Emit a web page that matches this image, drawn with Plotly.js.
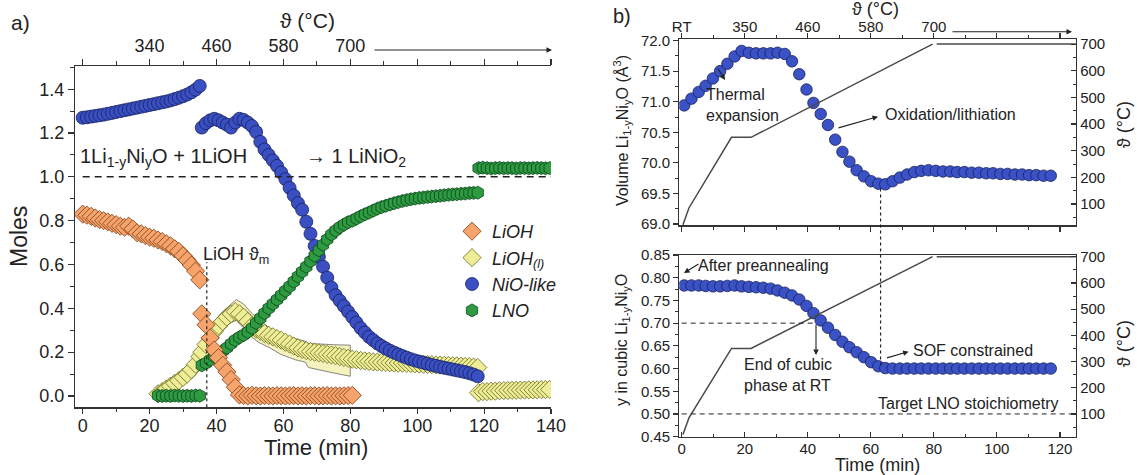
<!DOCTYPE html>
<html><head><meta charset="utf-8">
<script src="https://cdn.plot.ly/plotly-3.0.1.min.js"></script>
<style>html,body{margin:0;padding:0;background:#fff}#chart{width:1137px;height:475px}</style>
</head><body><div id="chart"></div>
<script>
// ---------- Panel a data ----------
const tSeg1 = [0, 1.25, 2.5, 3.75, 5, 6.25, 7.5, 8.75, 10, 11.25, 12.5, 13.75, 15, 16.25, 17.5, 18.75, 20, 21.25, 22.5, 23.75, 25, 26.25, 27.5, 28.75, 30, 31.25, 32.5, 33.75, 35];
const tSeg2 = [35.6, 36.85, 38.1, 39.35, 40.6, 41.85, 43.1, 44.35, 45.6, 46.85,
  48.1, 49.35, 50.6, 51.85, 53.1, 54.35, 55.6, 56.85, 58.1, 59.35,
  60.6, 61.85, 63.1, 64.35, 65.6, 66.85, 68.1, 69.35, 70.6, 71.85,
  73.1, 74.35, 75.6, 76.85, 78.1, 79.35, 80.6, 81.85, 83.1, 84.35,
  85.6, 86.85, 88.1, 89.35, 90.6, 91.85, 93.1, 94.35, 95.6, 96.85,
  98.1, 99.35, 100.6, 101.85, 103.1, 104.35, 105.6, 106.85, 108.1, 109.35,
  110.6, 111.85, 113.1, 114.35, 115.6, 116.85, 118.1];
const tSeg3 = [118.35, 119.6, 120.85, 122.1, 123.35, 124.6, 125.85, 127.1, 128.35, 129.6, 130.85, 132.1, 133.35, 134.6, 135.85, 137.1, 138.35, 139.6];

const nio1 = [1.27, 1.272, 1.275, 1.278, 1.281, 1.284, 1.288, 1.292, 1.296, 1.30, 1.304, 1.308, 1.312, 1.316, 1.32, 1.324, 1.328, 1.332, 1.336, 1.34, 1.344, 1.349, 1.355, 1.361, 1.368, 1.376, 1.386, 1.398, 1.415];
const nio2 = [1.225, 1.245, 1.258, 1.265, 1.258, 1.248, 1.238, 1.225, 1.248, 1.265,
  1.26, 1.248, 1.232, 1.205, 1.16, 1.125, 1.10, 1.075, 1.05, 1.02,
  0.99, 0.95, 0.915, 0.88, 0.85, 0.795, 0.74, 0.685, 0.635, 0.59,
  0.54, 0.495, 0.46, 0.435, 0.41, 0.385, 0.36, 0.335, 0.31, 0.29,
  0.27, 0.255, 0.24, 0.228, 0.217, 0.207, 0.198, 0.19, 0.182, 0.175,
  0.168, 0.162, 0.157, 0.152, 0.147, 0.142, 0.138, 0.133, 0.129, 0.125,
  0.121, 0.117, 0.113, 0.109, 0.104, 0.098, 0.09];

const lioh1 = [0.83, 0.825, 0.82, 0.812, 0.805, 0.80, 0.795, 0.788, 0.782, 0.775, 0.77, 0.775, 0.762, 0.745, 0.74, 0.732, 0.725, 0.72, 0.712, 0.705, 0.695, 0.685, 0.672, 0.66, 0.64, 0.62, 0.597, 0.57, 0.53];
const lioh2 = [0.375, 0.325, 0.265, 0.21, 0.175, 0.14, 0.11, 0.075, 0.04, 0.005,
  0.002, 0.0, 0.003, 0.001, 0.0, 0.002, 0.001, 0.0, 0.002, 0.001,
  0.0, 0.001, 0.002, 0.0, 0.001, 0.0, 0.002, 0.001, 0.0, 0.001,
  0.002, 0.0, 0.001, 0.0, 0.001, 0.002, 0.003];

const liohL1 = [0.01, 0.02, 0.032, 0.045, 0.058, 0.07, 0.085, 0.10, 0.12, 0.145, 0.18];
const liohL2 = [0.20, 0.235, 0.265, 0.295, 0.32, 0.34, 0.36, 0.375, 0.385, 0.375,
  0.36, 0.34, 0.32, 0.305, 0.295, 0.285, 0.277, 0.27, 0.262, 0.255,
  0.245, 0.237, 0.228, 0.22, 0.213, 0.207, 0.203, 0.20, 0.197, 0.194,
  0.19, 0.187, 0.184, 0.18, 0.176, 0.172, 0.168, 0.165, 0.162, 0.16,
  0.158, 0.156, 0.155, 0.154, 0.153, 0.152, 0.151, 0.15, 0.15, 0.149,
  0.148, 0.147, 0.146, 0.145, 0.144, 0.143, 0.142, 0.141, 0.14, 0.139,
  0.138, 0.137, 0.136, 0.135, 0.134, 0.132, 0.13];
const liohL3 = [0.015, 0.02, 0.02, 0.022, 0.022, 0.024, 0.025, 0.025, 0.026, 0.026, 0.027, 0.027, 0.028, 0.028, 0.028, 0.029, 0.029, 0.03];

const bandT  = [22.7, 27, 30.4, 33.8, 35.4, 37.1, 39.3, 41.5, 43.7, 45.9, 48.1, 50.4, 52.6, 55.9, 59.2, 63.6, 66.5, 67.5, 70, 75, 80];
const bandHi = [0.03, 0.08, 0.125, 0.18, 0.25, 0.29, 0.34, 0.38, 0.41, 0.44, 0.42, 0.38, 0.35, 0.31, 0.28, 0.26, 0.25, 0.24, 0.237, 0.234, 0.232];
const bandLo = [0.0, 0.045, 0.075, 0.12, 0.16, 0.21, 0.26, 0.30, 0.33, 0.345, 0.31, 0.27, 0.245, 0.22, 0.19, 0.165, 0.155, 0.13, 0.122, 0.105, 0.09];

const lno1 = [0.002, 0.0, 0.001, 0.0, 0.002, 0.001, 0.0, 0.001, 0.0, 0.002, 0.001];
const lno2 = [0.14, 0.15, 0.165, 0.18, 0.19, 0.205, 0.22, 0.238, 0.255, 0.268,
  0.278, 0.292, 0.31, 0.333, 0.355, 0.378, 0.40, 0.42, 0.44, 0.46,
  0.48, 0.50, 0.522, 0.545, 0.567, 0.59, 0.615, 0.64, 0.665, 0.69,
  0.715, 0.737, 0.755, 0.77, 0.782, 0.793, 0.80, 0.81, 0.82, 0.829,
  0.837, 0.846, 0.855, 0.862, 0.868, 0.874, 0.88, 0.885, 0.89, 0.894,
  0.898, 0.901, 0.904, 0.906, 0.908, 0.91, 0.912, 0.914, 0.916, 0.918,
  0.92, 0.921, 0.923, 0.924, 0.926, 0.927, 0.928];
const lno3 = [1.04, 1.042, 1.04, 1.038, 1.04, 1.041, 1.039, 1.04, 1.04, 1.038, 1.04, 1.04, 1.039, 1.04, 1.041, 1.04, 1.039, 1.04];

const topLabelsA = ['', '340', '460', '580', '700', '', '', ''];
const topTicksA = [0, 20, 40, 60, 80, 100, 120, 140];
const stoichLine = 1.0;
const liohMeltT = 37.1;

// ---------- Panel b data ----------
const tB = [0.8, 3.1, 5.4, 7.6, 9.9, 12.2, 14.5, 16.8, 19.0, 21.3,
  23.6, 25.9, 28.2, 30.4, 32.7, 35.0, 37.3, 39.6, 41.8, 44.1,
  46.4, 48.7, 51.0, 53.2, 55.5, 57.8, 60.1, 62.4, 64.6, 66.9,
  69.2, 71.5, 73.8, 76.0, 78.3, 80.6, 82.9, 85.2, 87.4, 89.7,
  92.0, 94.3, 96.6, 98.8, 101.1, 103.4, 105.7, 108.0, 110.2, 112.5,
  114.8, 117.1];
const volume = [70.94, 71.05, 71.16, 71.26, 71.38, 71.50, 71.62, 71.74, 71.83, 71.80,
  71.79, 71.79, 71.79, 71.80, 71.78, 71.66, 71.45, 71.20, 70.98, 70.80,
  70.62, 70.38, 70.18, 70.02, 69.88, 69.78, 69.70, 69.66, 69.65, 69.70,
  69.76, 69.81, 69.85, 69.87, 69.88, 69.87, 69.86, 69.86, 69.85, 69.85,
  69.84, 69.84, 69.83, 69.83, 69.82, 69.82, 69.81, 69.81, 69.80, 69.80,
  69.79, 69.79];
const yCubic = [0.783, 0.783, 0.783, 0.782, 0.781, 0.781, 0.782, 0.783, 0.781, 0.780,
  0.779, 0.778, 0.776, 0.772, 0.767, 0.761, 0.752, 0.738, 0.722, 0.706,
  0.690, 0.674, 0.659, 0.647, 0.636, 0.625, 0.614, 0.605, 0.601, 0.600,
  0.600, 0.600, 0.600, 0.600, 0.600, 0.600, 0.600, 0.600, 0.600, 0.600,
  0.600, 0.600, 0.600, 0.600, 0.600, 0.600, 0.600, 0.600, 0.600, 0.600,
  0.600, 0.600];
const tempT = [0.4, 2.3, 15.8, 22.0, 79.6, null, 80.9, 125];
const tempV = [22, 85, 350, 350, 700, null, 700, 700];
const topTicksB = [0, 20, 40, 60, 80, 100, 120];
const topLabelsB = ['RT', '350', '460', '580', '700', '', ''];
const endCubicY = 0.70, targetY = 0.50, endCubicT = 42.6, minVolT = 63.1;

// ---------- helpers ----------
const W = 1137, H = 475;
const px = x => x / W;
const py = y => 1 - y / H;
const FONT = 'Liberation Sans, Arial, Helvetica, sans-serif';
const INK = '#222';

const dom = {
  xa: [px(75), px(551)], ya: [py(407.3), py(66)],
  xb: [px(679.3), px(1076)], yb1: [py(225.3), py(39.3)], yb2: [py(436.7), py(255)]
};
const rng = {
  xa: [-2.3, 140], ya: [-0.0516, 1.506],
  xb: [-0.76, 125.1], yb1: [68.98, 72.02], tb1: [20, 718], yb2: [0.4499, 0.8501], tb2: [13.4, 706.5]
};
const toPaper = (v, d, r) => d[0] + (v - r[0]) / (r[1] - r[0]) * (d[1] - d[0]);

function axis(o) {
  return Object.assign({
    showgrid: false, zeroline: false, showline: true, linecolor: '#333', linewidth: 1.2,
    ticks: 'outside', tickcolor: '#333', tickwidth: 1.2, ticklen: 6,
    tickfont: {size: 18, color: INK, family: FONT}, fixedrange: true
  }, o);
}
function minor(d, dir, len) { return {dtick: d, tick0: 0, ticks: dir, ticklen: len || 3.5, tickcolor: '#333', tickwidth: 1, showgrid: false}; }

const ORANGE = {color: '#f6a46c', line: {color: '#7a3c12', width: 0.8}};
const YELLOW = {color: '#eeee98', line: {color: '#66661c', width: 0.8}};
const BLUE = {color: '#3a4fc2', line: {color: '#16215e', width: 0.8}};
const GREEN = {color: '#2e9a42', line: {color: '#0b4519', width: 0.8}};

function pts(x, y, sym, size, style, extra) {
  return Object.assign({type: 'scatter', mode: 'markers', x: x, y: y, xaxis: 'x', yaxis: 'y',
    marker: Object.assign({symbol: sym, size: size}, style), hoverinfo: 'skip', showlegend: false}, extra || {});
}

const traces = [];
traces.push({type: 'scatter', mode: 'lines', x: bandT.concat(bandT.slice().reverse()),
  y: bandHi.concat(bandLo.slice().reverse()), fill: 'toself', fillcolor: '#f6f2be',
  line: {color: '#555', width: 0.7}, xaxis: 'x', yaxis: 'y', showlegend: false, hoverinfo: 'skip'});
traces.push(pts(tSeg1.slice(18), liohL1, 'diamond', 14, YELLOW, {name: '<i>LiOH<sub>(l)</sub></i>', showlegend: true, legendgroup: 'l', legendrank: 2}));
traces.push(pts(tSeg2, liohL2, 'diamond', 14, YELLOW, {legendgroup: 'l'}));
traces.push(pts(tSeg3, liohL3, 'diamond', 14, YELLOW, {legendgroup: 'l'}));
traces.push(pts(tSeg1, nio1, 'circle', 13, BLUE, {name: '<i>NiO-like</i>', showlegend: true, legendgroup: 'n', legendrank: 3}));
traces.push(pts(tSeg2, nio2, 'circle', 13, BLUE, {legendgroup: 'n'}));
traces.push(pts(tSeg1.slice(18), lno1, 'hexagon', 13, GREEN, {name: '<i>LNO</i>', showlegend: true, legendgroup: 'g', legendrank: 4}));
traces.push(pts(tSeg2, lno2, 'hexagon', 13, GREEN, {legendgroup: 'g'}));
traces.push(pts(tSeg3, lno3, 'hexagon', 13, GREEN, {legendgroup: 'g'}));
traces.push(pts(tSeg1, lioh1, 'diamond', 14, ORANGE, {name: '<i>LiOH</i>', showlegend: true, legendgroup: 'o', legendrank: 1}));
traces.push(pts(tSeg2.slice(0, lioh2.length), lioh2, 'diamond', 14, ORANGE, {legendgroup: 'o'}));
traces.push({type: 'scatter', x: [], y: [], xaxis: 'x2', yaxis: 'y', showlegend: false});
traces.push({type: 'scatter', x: [], y: [], xaxis: 'x4', yaxis: 'y2', showlegend: false});
const PB = {symbol: 'circle', size: 11.5, color: '#3a52c6', line: {color: '#15205a', width: 0.8}};
traces.push({type: 'scatter', mode: 'markers', x: tB, y: volume, xaxis: 'x3', yaxis: 'y2', marker: PB, showlegend: false, hoverinfo: 'skip'});
traces.push({type: 'scatter', mode: 'lines', x: tempT, y: tempV, xaxis: 'x3', yaxis: 'y3', line: {color: '#4a4a4a', width: 1.5}, connectgaps: false, showlegend: false, hoverinfo: 'skip'});
traces.push({type: 'scatter', mode: 'markers', x: tB, y: yCubic, xaxis: 'x5', yaxis: 'y4', marker: PB, showlegend: false, hoverinfo: 'skip'});
traces.push({type: 'scatter', mode: 'lines', x: tempT, y: tempV, xaxis: 'x5', yaxis: 'y5', line: {color: '#4a4a4a', width: 1.5}, connectgaps: false, showlegend: false, hoverinfo: 'skip'});

const layout = {
  width: W, height: H, margin: {l: 0, r: 0, t: 0, b: 0}, paper_bgcolor: '#fff', plot_bgcolor: 'rgba(0,0,0,0)',
  font: {family: FONT, color: INK},
  showlegend: true,
  legend: {x: px(452), y: py(213), xanchor: 'left', yanchor: 'top', bgcolor: 'rgba(0,0,0,0)',
    font: {size: 18, color: INK, family: FONT}, traceorder: 'grouped', tracegroupgap: 0, itemsizing: 'trace'},
  xaxis: axis({domain: dom.xa, range: rng.xa, anchor: 'y', tickvals: topTicksA, ticklen: 5, ticklabelstandoff: -3, minor: minor(10, 'outside')}),
  yaxis: axis({domain: dom.ya, range: rng.ya, anchor: 'x', tick0: 0, dtick: 0.2, tickformat: '.1f', minor: minor(0.1, 'outside')}),
  xaxis2: axis({overlaying: 'x', side: 'top', anchor: 'y', range: rng.xa, tickmode: 'array', tickvals: topTicksA, ticktext: topLabelsA, minor: minor(10, 'outside')}),
  xaxis3: axis({domain: dom.xb, range: rng.xb, anchor: 'y2', tickvals: topTicksB, showticklabels: false, ticklen: 5, minor: minor(10, 'outside', 3)}),
  yaxis2: axis({domain: dom.yb1, range: rng.yb1, anchor: 'x3', dtick: 0.5, tick0: 69, tickformat: '.1f', ticklen: 5, tickfont: {size: 15, color: INK}, minor: minor(0.25, 'outside', 3)}),
  yaxis3: axis({overlaying: 'y2', side: 'right', anchor: 'x3', range: rng.tb1, tickvals: [100, 200, 300, 400, 500, 600, 700], ticks: 'inside', ticklen: 5, tickfont: {size: 15, color: INK}, minor: Object.assign(minor(50, 'inside', 3), {tick0: 0})}),
  xaxis4: axis({overlaying: 'x3', side: 'top', anchor: 'y2', range: rng.xb, tickmode: 'array', tickvals: topTicksB, ticktext: topLabelsB, ticklen: 5, ticklabelstandoff: -5, tickfont: {size: 15, color: INK}, minor: minor(10, 'outside', 3)}),
  xaxis5: axis({domain: dom.xb, range: rng.xb, anchor: 'y4', tickvals: topTicksB, mirror: true, ticks: 'inside', ticklen: 5, ticklabelstandoff: -2, tickfont: {size: 15, color: INK}, minor: minor(10, 'inside', 3)}),
  yaxis4: axis({domain: dom.yb2, range: rng.yb2, anchor: 'x5', dtick: 0.05, tick0: 0.45, tickformat: '.2f', ticklen: 5, tickfont: {size: 15, color: INK}, minor: minor(0.025, 'outside', 3)}),
  yaxis5: axis({overlaying: 'y4', side: 'right', anchor: 'x5', range: rng.tb2, tickvals: [100, 200, 300, 400, 500, 600, 700], ticks: 'inside', ticklen: 5, tickfont: {size: 15, color: INK}, minor: Object.assign(minor(50, 'inside', 3), {tick0: 0})}),
  shapes: [
    {type: 'line', xref: 'x', yref: 'y', x0: 0, x1: 140, y0: stoichLine, y1: stoichLine, line: {color: INK, width: 1.5, dash: '7px,5px'}},
    {type: 'line', xref: 'x', yref: 'y', x0: liohMeltT, x1: liohMeltT, y0: rng.ya[0], y1: 0.61, line: {color: INK, width: 1.2, dash: 'dot'}},
    {type: 'line', xref: 'x3', yref: 'paper', x0: minVolT, x1: minVolT,
      y0: toPaper(69.58, dom.yb1, rng.yb1), y1: toPaper(0.607, dom.yb2, rng.yb2), line: {color: INK, width: 1.2, dash: 'dot'}},
    {type: 'line', xref: 'x5', yref: 'y4', x0: 0, x1: endCubicT, y0: endCubicY, y1: endCubicY, line: {color: INK, width: 1, dash: '5px,4px'}},
    {type: 'line', xref: 'x5', yref: 'y4', x0: 0, x1: 125, y0: targetY, y1: targetY, line: {color: INK, width: 1, dash: '5px,4px'}}
  ],
  annotations: []
};

function txt(t, x, y, size, opts) {
  layout.annotations.push(Object.assign({text: t, x: px(x), y: py(y), xref: 'paper', yref: 'paper',
    showarrow: false, xanchor: 'center', yanchor: 'middle', font: {size: size, color: INK, family: FONT}}, opts || {}));
}
function arrow(hx, hy, tx, ty) {
  layout.annotations.push({text: '', x: px(hx), y: py(hy), xref: 'paper', yref: 'paper', showarrow: true,
    ax: tx - hx, ay: ty - hy, axref: 'pixel', ayref: 'pixel', arrowhead: 2, arrowsize: 1, arrowwidth: 1.1,
    arrowcolor: INK, standoff: 0, startstandoff: 0});
}
txt('a)', 20, 23, 21);
txt('\u03d1 (°C)', 307, 20, 21);
txt('Moles', 19, 237, 23, {textangle: -90});
txt('Time (min)', 316, 447, 22);
txt('1Li<sub>1-y</sub>Ni<sub>y</sub>O + 1LiOH', 78, 157, 20, {xanchor: 'left'});
txt('\u2192 1 LiNiO<sub>2</sub>', 304, 157, 20, {xanchor: 'left'});
txt('LiOH \u03d1<sub>m</sub>', 201, 255, 18, {xanchor: 'left'});
arrow(552, 50, 373, 50);
txt('b)', 622, 16, 20);
txt('\u03d1 (°C)', 875, 9, 18);
arrow(1072, 31.7, 951, 31.7);
txt('Volume Li<sub>1-y</sub>Ni<sub>y</sub>O (Å<sup>3</sup>)', 622, 131, 16, {textangle: -90});
txt('y in cubic Li<sub>1-y</sub>Ni<sub>y</sub>O', 622, 340, 16, {textangle: -90});
txt('\u03d1 (°C)', 1124, 125, 18, {textangle: -90});
txt('\u03d1 (°C)', 1124, 344, 18, {textangle: -90});
txt('Time (min)', 877, 465, 18);
txt('Thermal<br>expansion', 704, 105, 16, {xanchor: 'left', align: 'left'});
arrow(725, 80, 717, 67);
txt('Oxidation/lithiation', 883, 115, 16, {xanchor: 'left'});
arrow(878, 116.7, 837, 128.3);
txt('After preannealing', 696, 265, 16, {xanchor: 'left'});
arrow(684, 273, 700, 263);
txt('End of cubic<br>phase at RT', 742, 375, 16, {xanchor: 'left', align: 'left'});
arrow(816, 355, 816, 323);
txt('SOF constrained', 911, 350, 16, {xanchor: 'left'});
arrow(908.6, 351.7, 885.5, 358.3);
txt('Target LNO stoichiometry', 876, 403, 16, {xanchor: 'left'});

Plotly.newPlot('chart', traces, layout, {displayModeBar: false, staticPlot: true});
</script></body></html>
